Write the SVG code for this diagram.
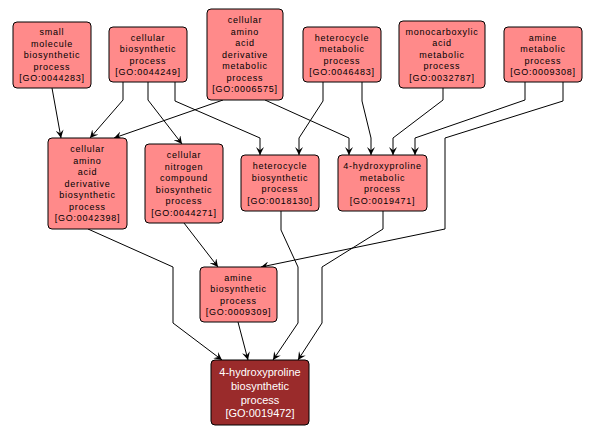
<svg xmlns="http://www.w3.org/2000/svg" width="596" height="436" viewBox="0 0 596 436">
<style>
.n rect{fill:#ff8a8a;stroke:#000;stroke-width:1}
.n text{font-family:"Liberation Sans",Arial,sans-serif;font-size:9px;letter-spacing:0.75px;text-anchor:middle;fill:#000}
.f rect{fill:#9a2b2b;stroke:#000;stroke-width:1}
.f text{font-family:"Liberation Sans",Arial,sans-serif;font-size:11px;text-anchor:middle;fill:#fff}
.e path{fill:none;stroke:#000;stroke-width:1;marker-end:url(#a)}
</style>
<defs>
<marker id="a" viewBox="0 0 10 10" refX="10" refY="5" markerWidth="8" markerHeight="8" markerUnits="userSpaceOnUse" orient="auto">
<path d="M0,0 L10,5 L0,10 L4,5 z" fill="#000"/>
</marker>
</defs>
<rect width="596" height="436" fill="#fff"/>
<g class="e" id="edges">
<path d="M52,88 L61,138"/>
<path d="M123,82 L123,100 L90,138"/>
<path d="M148,82 L148,100 L182,144"/>
<path d="M175,82 L175,101 L260,138 L260,155"/>
<path d="M223,100 L114,138"/>
<path d="M265,100 L349,138 L349,155"/>
<path d="M323,82 L323,101 L299,138 L299,155"/>
<path d="M362,82 L362,101 L371,138 L371,155"/>
<path d="M443,88 L443,100 L393,138 L393,155"/>
<path d="M525,82 L525,100 L415,138 L415,155"/>
<path d="M563,82 L563,101 L445,138 L445,229 L261,267"/>
<path d="M88,229 L173,267 L173,323 L222,360"/>
<path d="M184,223 L218,267"/>
<path d="M281,211 L281,230 L298,267 L298,323 L273,360"/>
<path d="M383,211 L383,229 L322,267 L322,323 L298,360"/>
<path d="M238,322 L248,360"/>
</g>
<g class="n" id="GO0044283"><rect x="13" y="22" width="78" height="66" rx="4"/>
<text x="52" y="35">small</text><text x="52" y="46.5">molecule</text><text x="52" y="58">biosynthetic</text><text x="52" y="69.5">process</text><text x="52" y="81">[GO:0044283]</text></g>
<g class="n" id="GO0044249"><rect x="109" y="27" width="78" height="55" rx="4"/>
<text x="148" y="40.5">cellular</text><text x="148" y="52">biosynthetic</text><text x="148" y="63.5">process</text><text x="148" y="75">[GO:0044249]</text></g>
<g class="n" id="GO0006575"><rect x="207" y="9" width="76" height="91" rx="4"/>
<text x="245" y="23.2">cellular</text><text x="245" y="34.7">amino</text><text x="245" y="46.2">acid</text><text x="245" y="57.7">derivative</text><text x="245" y="69.2">metabolic</text><text x="245" y="80.7">process</text><text x="245" y="92.2">[GO:0006575]</text></g>
<g class="n" id="GO0046483"><rect x="303" y="27" width="78" height="55" rx="4"/>
<text x="342" y="40.5">heterocycle</text><text x="342" y="52">metabolic</text><text x="342" y="63.5">process</text><text x="342" y="75">[GO:0046483]</text></g>
<g class="n" id="GO0032787"><rect x="399" y="21" width="86" height="67" rx="4"/>
<text x="442" y="34.7">monocarboxylic</text><text x="442" y="46.2">acid</text><text x="442" y="57.7">metabolic</text><text x="442" y="69.2">process</text><text x="442" y="80.7">[GO:0032787]</text></g>
<g class="n" id="GO0009308"><rect x="504" y="27" width="78" height="55" rx="4"/>
<text x="543" y="40.5">amine</text><text x="543" y="52">metabolic</text><text x="543" y="63.5">process</text><text x="543" y="75">[GO:0009308]</text></g>
<g class="n" id="GO0042398"><rect x="48" y="138" width="79" height="91" rx="4"/>
<text x="87.5" y="152.2">cellular</text><text x="87.5" y="163.7">amino</text><text x="87.5" y="175.2">acid</text><text x="87.5" y="186.7">derivative</text><text x="87.5" y="198.2">biosynthetic</text><text x="87.5" y="209.7">process</text><text x="87.5" y="221.2">[GO:0042398]</text></g>
<g class="n" id="GO0044271"><rect x="145" y="144" width="78" height="79" rx="4"/>
<text x="184" y="158">cellular</text><text x="184" y="169.5">nitrogen</text><text x="184" y="181">compound</text><text x="184" y="192.5">biosynthetic</text><text x="184" y="204">process</text><text x="184" y="215.5">[GO:0044271]</text></g>
<g class="n" id="GO0018130"><rect x="241" y="155" width="78" height="56" rx="4"/>
<text x="280" y="169">heterocycle</text><text x="280" y="180.5">biosynthetic</text><text x="280" y="192">process</text><text x="280" y="203.5">[GO:0018130]</text></g>
<g class="n" id="GO0019471"><rect x="338" y="155" width="89" height="56" rx="4"/>
<text x="382.5" y="169">4-hydroxyproline</text><text x="382.5" y="180.5">metabolic</text><text x="382.5" y="192">process</text><text x="382.5" y="203.5">[GO:0019471]</text></g>
<g class="n" id="GO0009309"><rect x="200" y="267" width="77" height="55" rx="4"/>
<text x="238.5" y="280.5">amine</text><text x="238.5" y="292">biosynthetic</text><text x="238.5" y="303.5">process</text><text x="238.5" y="315">[GO:0009309]</text></g>
<g class="f" id="GO0019472"><rect x="211" y="360" width="98" height="65" rx="4"/>
<text x="260" y="376">4-hydroxyproline</text><text x="260" y="390">biosynthetic</text><text x="260" y="403.5">process</text><text x="260" y="417">[GO:0019472]</text></g>
</svg>
